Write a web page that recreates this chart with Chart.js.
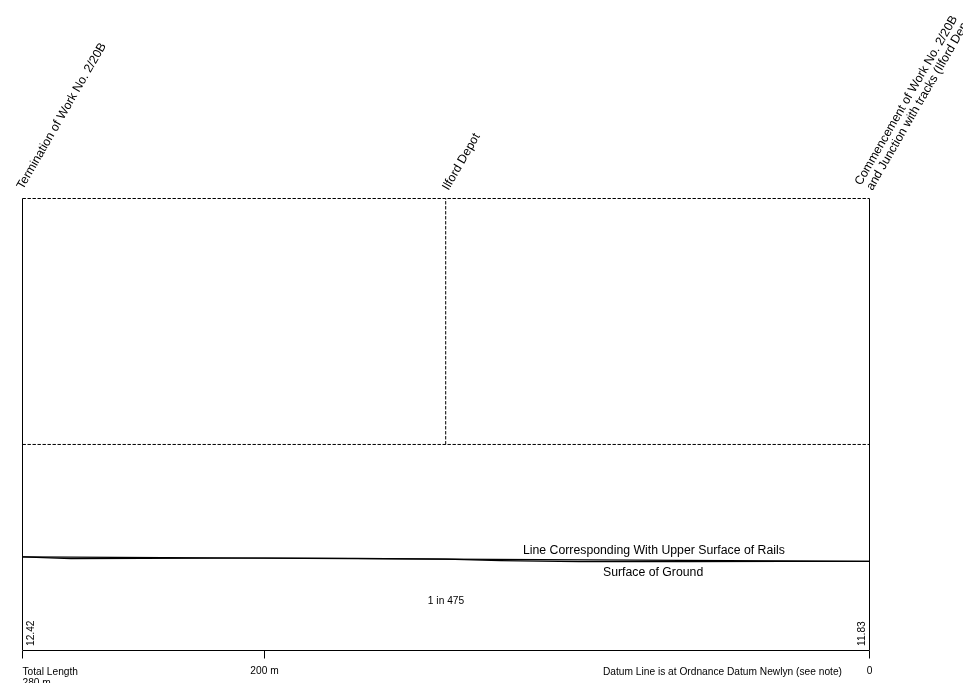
<!DOCTYPE html>
<html><head><meta charset="utf-8">
<script src="https://cdn.jsdelivr.net/npm/chart.js@4"></script>
<style>html,body{margin:0;padding:0;background:#fff;overflow:hidden}canvas{display:block}</style>
</head><body><canvas id="c" width="963" height="683"></canvas>
<script>
const railChainage = [280, 0];
const railLevels = [12.42, 11.83];
const groundChainage = [280, 264, 240, 200, 170, 140, 122, 96, 60, 28, 0];
const groundLevels = [12.42, 12.20, 12.22, 12.28, 12.22, 12.12, 11.94, 11.79, 11.79, 11.84, 11.83];
const axisTicks = [280, 200, 0];
const tickLabels = ['', '200 m', '0'];
const featureChainage = [280, 140.1, 0];
const topLevel = 60;
const midLevel = 27.35;
const datum = 0;
const endLevels = ['12.42', '11.83'];
const features = [
  ['Termination of Work No. 2/20B'],
  ['Ilford Depot'],
  ['Commencement of Work No. 2/20B', 'and Junction with tracks (Ilford Depot)']
];

const pts = (xs, ys) => xs.map((x, i) => ({x, y: ys[i]}));
const line = (data, extra) => Object.assign({data, borderColor:'#000', borderWidth:1, pointRadius:0, fill:false, tension:0, clip:false, showLine:true}, extra);
const dash = {borderDash:[3.4,1.6]};

const textPlugin = {
  id:'text',
  afterDraw(chart){
    const {ctx, scales:{x,y}} = chart;
    const FONT = '"Liberation Sans", Arial, sans-serif';
    const put = (s, px, py, size, align='left', rot=0) => {
      ctx.save();
      ctx.translate(px, py);
      ctx.rotate(rot);
      ctx.font = size + 'px ' + FONT;
      ctx.fillStyle = '#000';
      ctx.textAlign = align;
      ctx.textBaseline = 'alphabetic';
      ctx.fillText(s, 0, 0);
      ctx.restore();
    };
    const steep = -60 * Math.PI / 180;
    put(features[0][0], x.getPixelForValue(280) + 0.5, 190, 12.28, 'left', steep);
    put(features[1][0], x.getPixelForValue(140) + 2.5, 191, 12.28, 'left', steep);
    put(features[2][0], x.getPixelForValue(0) - 8.5, 186, 12.28, 'left', steep);
    put(features[2][1], x.getPixelForValue(0) + 3, 191, 12.28, 'left', steep);
    put('Line Corresponding With Upper Surface of Rails', 523, 554, 12.28);
    put('Surface of Ground', 603, 576, 12.28);
    put('1 in 475', x.getPixelForValue(140), 604, 10.2, 'center');
    put(endLevels[0], x.getPixelForValue(280) + 11, 646, 10.2, 'left', -Math.PI/2);
    put(endLevels[1], x.getPixelForValue(0) - 4.5, 646, 10.2, 'left', -Math.PI/2);
    put('Total Length', x.getPixelForValue(280), 675, 10.2);
    put('280 m', x.getPixelForValue(280), 685.5, 10.2);
    put('Datum Line is at Ordnance Datum Newlyn (see note)', 603, 675, 10.2);
  }
};

new Chart(document.getElementById('c'), {
  type:'scatter',
  data:{datasets:[
    line(pts([featureChainage[0], featureChainage[2]], [topLevel, topLevel]), dash),
    line(pts([featureChainage[0], featureChainage[2]], [midLevel, midLevel]), dash),
    line(pts([featureChainage[1], featureChainage[1]], [midLevel, topLevel]), dash),
    line(pts([featureChainage[0], featureChainage[0]], [datum, topLevel])),
    line(pts([featureChainage[2], featureChainage[2]], [datum, topLevel])),
    line(pts([featureChainage[0], featureChainage[2]], [datum, datum])),
    line(pts(groundChainage, groundLevels), {borderWidth:1.2}),
    line(pts(railChainage, railLevels), {borderWidth:1.2})
  ]},
  options:{
    responsive:false, animation:false, devicePixelRatio:1,
    layout:{padding:{left:22.5,right:93.5,top:198.5,bottom:0}},
    plugins:{legend:{display:false},tooltip:{enabled:false},title:{display:false}},
    scales:{
      x:{type:'linear',reverse:true,min:0,max:280,
        afterBuildTicks:s=>{s.ticks=axisTicks.map(v=>({value:v}));},
        afterFit:s=>{s.height=32.5;},
        border:{display:false},
        grid:{drawOnChartArea:false,drawTicks:true,tickLength:8,color:'#000',tickColor:'#000',lineWidth:1},
        ticks:{autoSkip:false,maxRotation:0,minRotation:0,padding:7,color:'#000',
          font:{family:'"Liberation Sans", Arial, sans-serif',size:10.2},
          callback:v=>tickLabels[axisTicks.indexOf(v)]}
      },
      y:{type:'linear',display:false,min:0,max:60}
    }
  },
  plugins:[textPlugin]
});
</script></body></html>
